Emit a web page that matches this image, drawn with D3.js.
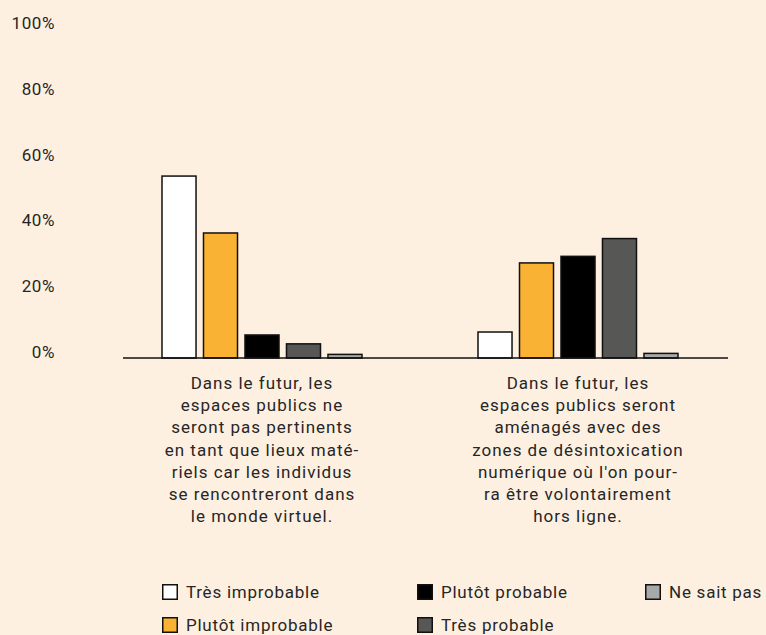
<!DOCTYPE html>
<html>
<head>
<meta charset="utf-8">
<script src="https://cdn.jsdelivr.net/npm/d3@7"></script>
<style>
  html, body { margin: 0; padding: 0; background: #fef0e1; }
  svg { display: block; font-family: Roboto, "Noto Sans", sans-serif; }
</style>
</head>
<body>
<svg id="chart" width="766" height="635"></svg>
<script>
// ---- data ----
const categories = [
  ["Dans le futur, les", "espaces publics ne", "seront pas pertinents", "en tant que lieux maté-", "riels car les individus", "se rencontreront dans", "le monde virtuel."],
  ["Dans le futur, les", "espaces publics seront", "aménagés avec des", "zones de désintoxication", "numérique où l'on pour-", "ra être volontairement", "hors ligne."]
];
const seriesNames = ["Très improbable", "Plutôt improbable", "Plutôt probable", "Très probable", "Ne sait pas"];
const tresImprobable   = [55.3, 7.9];
const plutotImprobable = [38, 28.9];
const plutotProbable   = [7, 30.9];
const tresProbable     = [4.3, 36.3];
const neSaitPas        = [1.1, 1.4];
const yTicks = [0, 20, 40, 60, 80, 100];
const seriesColors = ["#ffffff", "#f9b233", "#000000", "#575756", "#a8a8a8"];

const seriesValues = [tresImprobable, plutotImprobable, plutotProbable, tresProbable, neSaitPas];

// ---- layout ----
const svg = d3.select("#chart");
const textColor = "#262626";
const fontSize = 17;

const y = d3.scaleLinear().domain([0, 100]).range([358, 29]);
const x0 = d3.scaleBand().domain(d3.range(categories.length)).range([104, 736]);
const x1 = d3.scaleBand().domain(seriesNames)
  .range([58, x0.bandwidth() - 58]).paddingInner(0.18);

// y tick labels (no axis line)
const yAxis = d3.axisLeft(y).tickValues(yTicks).tickFormat(d => d + "%").tickSize(0).tickPadding(0);
const yg = svg.append("g").attr("transform", "translate(55,0)").call(yAxis);
yg.select(".domain").remove();
yg.selectAll("text")
  .attr("font-family", "Roboto, sans-serif")
  .attr("font-size", fontSize)
  .attr("letter-spacing", 0.6)
  .attr("fill", textColor)
  .attr("dy", "0")
  .attr("y", -0.5);

// bars
const groups = svg.append("g").selectAll("g")
  .data(categories.map((c, i) => i))
  .join("g")
  .attr("transform", i => `translate(${x0(i)},0)`);

groups.selectAll("rect")
  .data(i => seriesNames.map((s, k) => ({ s, k, v: seriesValues[k][i] })))
  .join("rect")
  .attr("x", d => x1(d.s))
  .attr("y", d => y(d.v))
  .attr("width", x1.bandwidth())
  .attr("height", d => y(0) - y(d.v))
  .attr("fill", d => seriesColors[d.k])
  .attr("stroke", "#111")
  .attr("stroke-width", 1.5);

// baseline axis
svg.append("line")
  .attr("x1", 123).attr("x2", 728)
  .attr("y1", y(0)).attr("y2", y(0))
  .attr("stroke", "#111").attr("stroke-width", 1.3);

// category labels
categories.forEach((lines, i) => {
  const cx = x0(i) + x0.bandwidth() / 2;
  const t = svg.append("text")
    .attr("text-anchor", "middle")
    .attr("font-size", fontSize)
    .attr("letter-spacing", 1)
    .attr("fill", textColor);
  lines.forEach((ln, j) => {
    t.append("tspan").attr("x", cx).attr("y", 389 + j * 22.2).text(ln);
  });
});

// legend
const legendCols = [162, 417, 645];
const legendRows = [584, 617];
seriesNames.forEach((name, k) => {
  const col = Math.floor(k / 2), row = k % 2;
  const g = svg.append("g").attr("transform", `translate(${legendCols[col]},${legendRows[row]})`);
  g.append("rect").attr("x", 0.75).attr("y", 0.75).attr("width", 14.5).attr("height", 14.5)
    .attr("fill", seriesColors[k]).attr("stroke", "#111").attr("stroke-width", 1.5);
  g.append("text").attr("x", 24).attr("y", 14)
    .attr("font-size", fontSize).attr("letter-spacing", 0.75)
    .attr("fill", textColor).text(name);
});
</script>
</body>
</html>
